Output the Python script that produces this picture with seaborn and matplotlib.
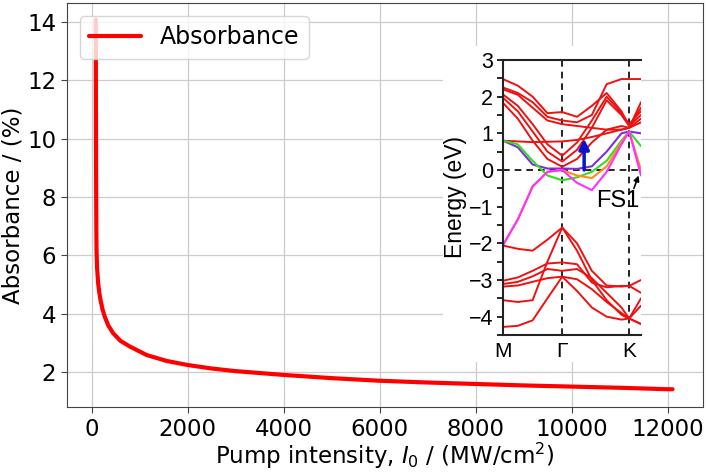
import numpy as np
import pandas as pd
import matplotlib
matplotlib.use("Agg")
import matplotlib.pyplot as plt
import seaborn as sns
from matplotlib.patches import Rectangle
from matplotlib.ticker import MultipleLocator

# main curve: absorbance vs pump intensity
intensity = [88, 92, 96, 100, 104, 115, 138, 160, 187, 230, 277, 350, 450, 600, 800,
             1150, 1560, 2000, 2500, 3000, 4000, 5000, 6000, 7000, 8000, 9000,
             10000, 11000, 12000, 12100]
absorbance = [14.07, 11.0, 8.5, 7.0, 6.2, 5.6, 5.05, 4.75, 4.48, 4.15, 3.90, 3.60, 3.34, 3.08, 2.88,
              2.59, 2.39, 2.25, 2.13, 2.04, 1.91, 1.80, 1.71, 1.65, 1.60, 1.55,
              1.51, 1.47, 1.42, 1.42]

# inset: band structure along M - Gamma - K
kpath = [0, 0.25, 0.5, 0.75, 1.0, 1.25, 1.5, 1.75, 2.0, 2.13, 2.33]
k_ticks = [0, 1.0, 2.13]
k_labels = ["M", "Γ", "K"]

red_bands = {
    "c_a": [2.48, 2.30, 2.00, 1.55, 1.58, 1.45, 1.75, 2.10, 1.60, 1.20, 1.50],
    "c_b": [2.25, 2.10, 1.85, 1.45, 1.35, 1.30, 1.50, 2.34, 2.48, 2.48, 2.48],
    "c_c": [2.06, 1.75, 1.25, 0.70, 0.39, 0.75, 1.35, 2.00, 1.55, 1.25, 1.60],
    "c_d": [1.97, 1.60, 1.05, 0.50, 0.23, 0.55, 1.15, 1.90, 1.50, 1.20, 1.70],
    "c_e": [1.83, 1.40, 0.80, 0.30, 0.09, 0.30, 0.75, 1.10, 1.20, 1.15, 1.85],
    "c_f": [0.80, 0.78, 0.76, 0.77, 0.78, 0.82, 0.90, 1.00, 1.10, 1.15, 1.30],
    "c_g": [2.20, 2.05, 1.70, 1.35, 1.25, 1.20, 1.15, 1.10, 1.10, 1.15, 1.40],
    "v_a": [-2.06, -2.15, -2.20, -1.90, -1.57, -2.00, -2.75, -3.15, -3.18, -3.16, -3.00],
    "v_b": [-3.55, -3.60, -3.55, -2.50, -1.57, -2.20, -3.00, -3.55, -3.95, -4.05, -3.50],
    "v_c": [-3.02, -2.93, -2.75, -2.55, -2.52, -2.57, -3.07, -3.20, -3.16, -3.16, -3.35],
    "v_d": [-3.11, -3.05, -2.90, -2.70, -2.75, -2.70, -2.95, -3.35, -3.75, -4.05, -4.20],
    "v_e": [-3.18, -3.15, -3.05, -2.95, -2.91, -2.98, -3.25, -3.60, -3.90, -4.05, -4.20],
    "v_f": [-4.28, -4.25, -4.10, -3.50, -2.91, -3.30, -3.75, -4.00, -4.08, -4.05, -3.70],
}
violet = [0.80, 0.62, 0.15, 0.04, 0.04, 0.03, 0.10, 0.50, 1.00, 1.05, 1.00]
green = [0.80, 0.70, 0.25, -0.15, -0.28, -0.20, -0.05, 0.25, 0.80, 1.05, 0.65]
orange = [-2.05, -1.35, -0.45, -0.05, 0.00, -0.15, -0.22, 0.10, 0.75, 1.05, 0.00]
magenta = [-2.05, -1.35, -0.45, -0.05, 0.00, -0.35, -0.55, -0.05, 0.70, 1.05, -0.15]

arrow_k = 1.37
arrow_E = (0.0, 0.85)

sns.set_style("ticks")
plt.rcParams['font.family'] = ['DejaVu Sans']
for key in ['text.color', 'axes.labelcolor', 'xtick.color', 'ytick.color']:
    plt.rcParams[key] = 'black'

fig = plt.figure(figsize=(7.08, 4.72), dpi=100)
ax = fig.add_axes([0.094, 0.137, 0.899, 0.857])

df = pd.DataFrame({'I': intensity, 'A': absorbance})
sns.lineplot(data=df, x='I', y='A', ax=ax, color='red', linewidth=3,
             label='Absorbance', sort=False)
ax.set_xlim(-520, 12735)
ax.set_ylim(0.80, 14.65)
ax.set_xticks(range(0, 12001, 2000))
ax.set_yticks(range(2, 15, 2))
ax.grid(True, color='#cccccc', linewidth=0.9)
ax.tick_params(labelsize=16.5, length=4, color='#444444')
for s in ax.spines.values():
    s.set_color('#444444')
ax.set_xlabel('Pump intensity, $I_0$ / (MW/cm$^2$)', fontsize=16.5, labelpad=0)
ax.set_ylabel('Absorbance / (%)', fontsize=16.5, labelpad=2)
leg = ax.legend(loc='upper left', fontsize=17, framealpha=0.8,
                handlelength=2.2, borderaxespad=0.55)

# white backdrop of the inset picture
ax.add_patch(Rectangle((443 / 708, 1 - 362 / 472), 198 / 708, 316 / 472,
                       transform=fig.transFigure, facecolor='white',
                       edgecolor='none', zorder=5))

# inset band structure
ins = fig.add_axes([503 / 708, 1 - 335 / 472, 138 / 708, 275 / 472], zorder=10)
ins.set_facecolor('white')
bands = pd.concat([pd.DataFrame({'k': kpath, 'E': v, 'band': n})
                   for n, v in red_bands.items()])
sns.lineplot(data=bands, x='k', y='E', units='band', estimator=None,
             color='#ee1111', linewidth=1.4, ax=ins)
colored = pd.concat([pd.DataFrame({'k': kpath, 'E': v, 'band': n})
                     for n, v in [('violet', violet), ('green', green),
                                  ('orange', orange), ('magenta', magenta)]])
sns.lineplot(data=colored, x='k', y='E', hue='band', estimator=None, ax=ins,
             palette={'violet': '#7b2fe0', 'green': '#33dd22',
                      'orange': '#ff8c1a', 'magenta': '#ff30ff'},
             linewidth=1.5, legend=False)

for kv in k_ticks[1:]:
    ins.axvline(kv, color='black', linestyle=(0, (4, 3)), linewidth=1.2, zorder=0.5)
ins.axhline(0, color='black', linestyle=(0, (4, 3)), linewidth=1.2, zorder=0.5)

ins.annotate('', xy=(arrow_k, arrow_E[1]), xytext=(arrow_k, arrow_E[0]),
             arrowprops=dict(arrowstyle='-|>', color='#0a14d0', lw=2.5,
                             mutation_scale=15, shrinkA=0, shrinkB=0))
ins.text(2.31, -1.02, 'FS1', fontsize=17, ha='right', va='baseline',
         family='Liberation Sans')
ins.annotate('', xy=(2.29, -0.15), xytext=(2.21, -0.5),
             arrowprops=dict(arrowstyle='-|>', color='black', lw=1.2,
                             mutation_scale=8, shrinkA=0, shrinkB=0))

ins.set_xlim(0, 2.33)
ins.set_ylim(-4.5, 3.0)
ins.set_xticks(k_ticks)
ins.set_xticklabels(k_labels, family='Liberation Sans', fontsize=15)
ins.yaxis.set_major_locator(MultipleLocator(1))
ins.yaxis.set_minor_locator(MultipleLocator(0.5))
ins.tick_params(axis='x', length=0, pad=5)
ins.tick_params(axis='y', which='both', length=4, width=1.2, direction='out',
                labelsize=15.5, pad=3)
for lab in ins.get_yticklabels():
    lab.set_family('Liberation Sans')
ins.set_xlabel('')
ins.set_ylabel('Energy (eV)', fontsize=16.5, family='Liberation Sans', labelpad=1)
ins.spines['right'].set_visible(False)
for side in ['left', 'bottom', 'top']:
    ins.spines[side].set_linewidth(1.5)
    ins.spines[side].set_color('#222222')

fig.savefig('out.png', dpi=100)
